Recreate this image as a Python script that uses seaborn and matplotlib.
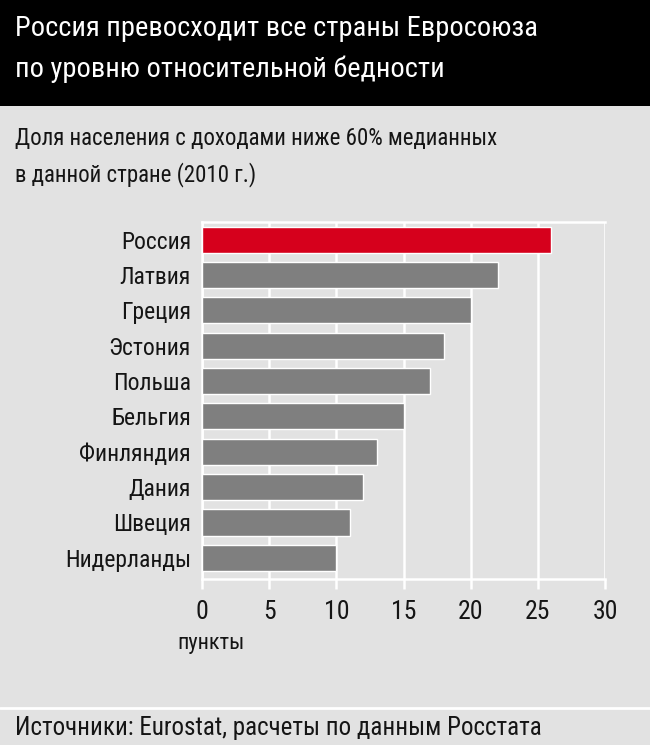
import matplotlib
matplotlib.use("Agg")
import matplotlib.pyplot as plt
import seaborn as sns
import pandas as pd
from matplotlib.patches import Rectangle
from matplotlib.lines import Line2D

# Data
countries = ["Россия", "Латвия", "Греция", "Эстония", "Польша",
             "Бельгия", "Финляндия", "Дания", "Швеция", "Нидерланды"]
values = [26, 22, 20, 18, 17, 15, 13, 12, 11, 10]
ticks = [0, 5, 10, 15, 20, 25, 30]

title = "Россия превосходит все страны Евросоюза\nпо уровню относительной бедности"
subtitle = "Доля населения с доходами ниже 60% медианных\nв данной стране (2010 г.)"
unit = "пункты"
source = "Источники: Eurostat, расчеты по данным Росстата"

bg = "#e2e2e2"
sns.set_theme(style="white")
plt.rcParams['font.family'] = ['Roboto Condensed', 'DejaVu Sans']
plt.rcParams['font.stretch'] = 'condensed'

df = pd.DataFrame({'country': countries, 'value': values})
colors = ["#d6001c"] + ["#7f7f7f"] * (len(countries) - 1)

fig = plt.figure(figsize=(6.5, 7.45), dpi=100, facecolor=bg)

# black title band
fig.patches.append(Rectangle((0, 1 - 106 / 745), 1, 106 / 745, transform=fig.transFigure,
                             facecolor="black", edgecolor="none", zorder=0))
fig.text(15 / 650, 1 - 15 / 745, title, color="white", fontsize=20.5, va="top", ha="left",
         linespacing=1.65)
fig.text(15 / 650, 1 - 127 / 745, subtitle, color="#151515", fontsize=16.5, va="top", ha="left",
         linespacing=1.6)

ax = fig.add_axes([202 / 650, 1 - 579 / 745, 403 / 650, (579 - 222) / 745])
ax.set_facecolor(bg)
sns.barplot(data=df, x='value', y='country', hue='country', palette=colors, legend=False,
            orient='h', width=0.74, ax=ax, zorder=3, saturation=1)
ax.set_xlim(0, 30)
ax.set_ylim(9.6, -0.5)
ax.set_xticks(ticks)
ax.set_xticklabels([str(t) for t in ticks])
ax.grid(axis='x', color='white', lw=1.8, zorder=0)
ax.set_axisbelow(True)
for s in ['top', 'bottom', 'left', 'right']:
    ax.spines[s].set_color('white')
    ax.spines[s].set_linewidth(1.8)
ax.spines['right'].set_visible(False)
ax.tick_params(axis='x', colors='white', length=7, width=1.8, pad=8, labelcolor='#151515',
               labelsize=18.5, bottom=True)
ax.tick_params(axis='y', length=0, pad=8, labelcolor='#151515', labelsize=17)
ax.set_xlabel("")
ax.set_ylabel("")

fig.text(177 / 650, 1 - 643 / 745, unit, color="#151515", fontsize=16, va="center", ha="left")

# footer separator
fig.lines.append(Line2D([0, 1], [1 - 708 / 745, 1 - 708 / 745], transform=fig.transFigure,
                        color="white", lw=2))
fig.text(15 / 650, 1 - 728 / 745, source, color="#151515", fontsize=18, va="center", ha="left")

fig.savefig("out.png", dpi=100, facecolor=bg)
